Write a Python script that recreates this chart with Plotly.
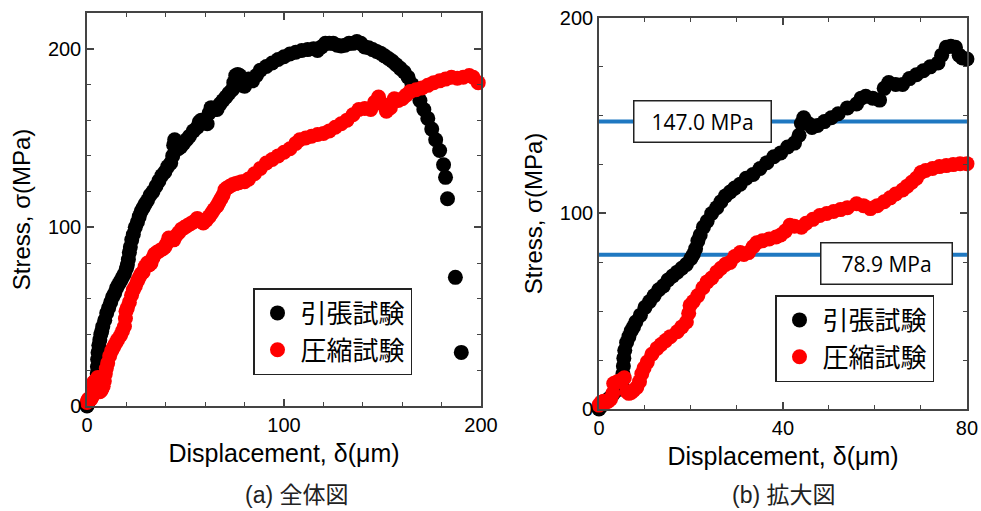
import plotly.graph_objects as go

# ---------------- data ----------------
tension_disp = [0, 0.5, 1, 1.5, 2, 2.5, 3, 3.5, 4, 4.5, 5, 5.2, 5.3, 5.4, 5.6, 6, 6.5, 7, 7.5, 8,
                9, 10, 11, 12, 13, 14, 15, 16, 17, 18, 19, 20, 20.5, 21, 21.5, 22, 22.7, 23.5, 24.5, 25.6,
                26.5, 27.5, 28.5, 29.5, 30.7, 32, 33.5, 35, 36.5, 38, 39.5, 41, 42.5, 43.5, 44, 44.5, 45.5, 46.3,
                47.5, 49, 50.5, 52, 54, 56, 57, 58, 59.5, 61, 62, 63, 64.5, 66, 67.5, 69, 70.5, 72, 73.7,
                74.5, 75.5, 76.5, 77.5, 78.3, 79, 80,
                82, 84, 86, 88, 91, 94, 97, 100, 103, 106, 109, 112, 115, 117, 119, 121, 123, 125, 127,
                129, 131, 133, 135, 137, 139, 141, 143, 145, 147, 149, 151, 153, 155, 157, 159, 161, 163,
                165, 167, 169, 171, 173, 175, 177, 179, 181, 182, 183, 187, 190]
tension_stress = [0, 1.5, 3, 4, 5, 6, 7.5, 9, 10, 11, 14, 18, 22, 26, 30, 34, 37, 40, 42, 44.5,
                  48, 52, 55, 58, 61, 63, 66, 68, 70, 72, 74, 77, 79, 82, 86, 89, 93, 96, 100, 103,
                  106, 109, 111, 113, 115, 118, 120, 123, 126, 129, 131, 134, 136, 140, 146, 149, 146, 144,
                  145, 147, 149, 151, 154, 156, 159, 160, 159, 158, 164, 167, 166, 166, 169, 171, 173, 175, 177,
                  181, 185, 185.5, 185, 181, 179.5, 179,
                  183, 182, 185, 188, 190, 192, 194, 195.5, 197, 198, 199, 199.5, 200, 199, 201, 203, 203, 203, 202,
                  201.5, 202, 203, 203, 204, 203, 201, 200.5, 199.5, 198.5, 197.5, 196, 194.5, 193, 191, 189, 187, 184,
                  180, 176, 171, 166, 161, 155, 149, 143, 135, 128, 116, 72, 30]

compression_disp = [0, 0.5, 1, 1.5, 2, 2.5, 3, 3.2, 4, 5, 5.5, 6, 6.5, 7, 7.5, 8.2, 8.8, 9.3, 9.8, 10.5,
                    11.5, 12.6, 13.5, 14.5, 15.5, 17, 18, 19, 19.5, 19.8, 20.5, 21.5, 22.6, 23.5, 24.5, 25.6,
                    26.5, 27.5, 28.5, 29.5, 30.7, 31.5, 32.5, 33.5, 34.3, 35.5, 37, 38.5, 39.5, 40.5, 41.5,
                    42.5, 44, 45, 46.5, 48, 49.5, 51, 52.5, 54, 56, 57.5, 59, 60.5, 62, 63.3, 64.5, 66, 67,
                    68, 69, 70, 71, 72.5, 74, 75.5, 77, 78.5, 80,
                    82, 85, 88, 91, 94, 97, 100, 103, 106, 108, 111, 114, 117, 120, 123, 126, 129, 132, 135,
                    138, 141, 144, 146, 148, 150, 152, 154, 156, 158, 160, 162, 164, 167, 170, 173, 176, 179,
                    182, 185, 188, 191, 194, 196, 198.6]
compression_stress = [2, 3.5, 4, 3.5, 4, 5, 8, 13, 14, 15, 16, 9, 8, 8.5, 9.5, 11, 14, 18, 21, 24,
                      28, 31, 33, 35, 37, 39.5, 42, 44.5, 49, 53, 55, 58, 62, 65, 67, 70,
                      72, 74, 75, 78, 80, 79, 80, 83, 85, 86, 87, 88, 89, 91, 94,
                      93.5, 93, 95, 97, 99, 100, 101, 102, 103, 105, 104, 102.5, 104, 106, 108, 110, 112, 114,
                      116, 118, 121, 122, 123, 124, 124.5, 125, 125.5, 125.5,
                      127, 130, 133, 136, 138, 140, 142, 144, 147, 149, 150, 151, 152, 152.5, 154, 156, 158, 160, 163,
                      166, 166.5, 166, 170, 173, 169, 165, 167, 172, 171, 172, 174, 176, 177, 178, 179.5, 181,
                      182, 183, 184, 183.5, 184, 185, 184, 181]

series_names = ["引張試験", "圧縮試験"]
series_colors = ["#000000", "#ff0000"]
threshold_values = [147.0, 78.9]
threshold_labels = ["147.0 MPa", "78.9 MPa"]
threshold_label_x = [22.6, 62.6]
threshold_label_y = [147.0, 74.4]
captions = ["(a) 全体図", "(b) 拡大図"]

left_xticks = [0, 100, 200]
left_yticks = [0, 100, 200]
right_xticks = [0, 40, 80]
right_yticks = [0, 100, 200]

# ---------------- figure ----------------
FONT = "Liberation Sans, Arial, sans-serif"
CJK = "Noto Sans CJK JP, sans-serif"
AXC = "#444444"
MS = 15

fig = go.Figure()

series = [(tension_disp, tension_stress), (compression_disp, compression_stress)]

# right panel threshold lines (drawn first, below data)
for v in threshold_values:
    fig.add_shape(type="line", xref="x2 domain", yref="y2", x0=0, x1=1, y0=v, y1=v,
                  line=dict(color="#1f78c1", width=4), layer="below")

for (xs, ys), name, col in zip(series, series_names, series_colors):
    fig.add_trace(go.Scatter(x=xs, y=ys, mode="markers", name=name,
                             marker=dict(size=MS, color=col, line=dict(width=0)),
                             xaxis="x", yaxis="y", legend="legend", cliponaxis=False))

for (xs, ys), name, col in zip(series, series_names, series_colors):
    pts = [(a, b) for a, b in zip(xs, ys) if a <= 80]
    fig.add_trace(go.Scatter(x=[p[0] for p in pts], y=[p[1] for p in pts], mode="markers", name=name,
                             marker=dict(size=MS, color=col, line=dict(width=0)),
                             xaxis="x2", yaxis="y2", legend="legend2", cliponaxis=False))


def axis(domain, rng, tickvals, minor_dtick, anchor, title, standoff, tsize):
    return dict(domain=domain, range=rng, tickvals=tickvals, ticks="inside", ticklen=7,
                tickwidth=1.5, tickcolor=AXC, showline=True, linecolor=AXC, linewidth=1.5,
                mirror="ticks", showgrid=False, zeroline=False, anchor=anchor, automargin=False,
                tickfont=dict(family=FONT, size=20, color="#000"),
                minor=dict(dtick=minor_dtick, ticks="inside", ticklen=4, tickwidth=1.2,
                           tickcolor=AXC, showgrid=False),
                title=dict(text=title, font=dict(family=FONT, size=tsize, color="#000"),
                           standoff=standoff))


xt = "Displacement, δ(μm)"
yt = "Stress, σ(MPa)"
fig.update_layout(
    width=981, height=511,
    margin=dict(l=0, r=0, t=0, b=0),
    paper_bgcolor="white", plot_bgcolor="white",
    showlegend=True,
    xaxis=axis([0.0887, 0.4903], [0, 200], left_xticks, 20, "y", xt, 10, 25),
    yaxis=axis([0.2055, 0.9746], [0, 220], left_yticks, 20, "x", yt, 10, 24),
    xaxis2=axis([0.6106, 0.9857], [0, 80], right_xticks, 10, "y2", xt, 10, 25),
    yaxis2=axis([0.1996, 0.9648], [0, 200], right_yticks, 25, "x2", yt, 10, 24),
    legend=dict(x=253 / 981, y=1 - 288 / 511, xanchor="left", yanchor="top",
                bgcolor="white", bordercolor="#222", borderwidth=1.5, itemwidth=36,
                font=dict(family=CJK, size=26, color="#000")),
    legend2=dict(x=775 / 981, y=1 - 295 / 511, xanchor="left", yanchor="top",
                 bgcolor="white", bordercolor="#222", borderwidth=1.5, itemwidth=36,
                 font=dict(family=CJK, size=26, color="#000")),
)

for txt, ax_, ay_, w in zip(threshold_labels, threshold_label_x, threshold_label_y, [126, 120]):
    fig.add_annotation(text=txt, x=ax_, y=ay_, xref="x2", yref="y2", showarrow=False,
                       font=dict(family="Open Sans, sans-serif", size=21, color="#000"),
                       bgcolor="white", bordercolor="#222", borderwidth=1.5, borderpad=5,
                       width=w, height=30)

for txt, cx in zip(captions, [297 / 981, 784 / 981]):
    fig.add_annotation(text=txt, x=cx, y=1 - 495 / 511, xref="paper", yref="paper",
                       showarrow=False, xanchor="center", yanchor="middle",
                       font=dict(family="Liberation Sans, Noto Sans CJK JP, sans-serif", size=23,
                                 color="#222"))

fig.write_html("out.html")
